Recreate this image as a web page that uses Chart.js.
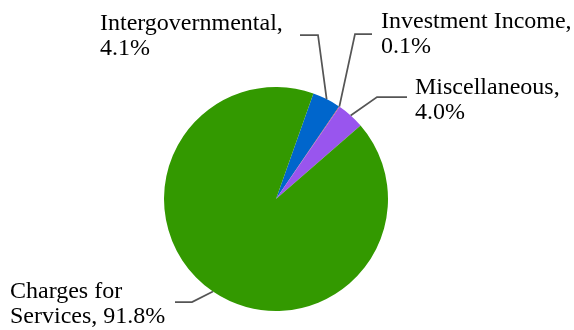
<!DOCTYPE html>
<html>
<head>
<meta charset="utf-8">
<script src="https://cdn.jsdelivr.net/npm/chart.js@4"></script>
<style>
  html, body { margin: 0; padding: 0; background: #fff; }
  #wrap { width: 574px; height: 330px; }
</style>
</head>
<body>
<div id="wrap"><canvas id="pie"></canvas></div>
<script>
// Revenue sources, share of total (%)
const categories = ['Intergovernmental', 'Investment Income', 'Miscellaneous', 'Charges for Services'];
const shares = [4.1, 0.1, 4.0, 91.8];
const sliceColors = ['#0066cc', '#c0504d', '#9955ee', '#339900'];

// callout placement: elbow of the leader line, its end, text anchor and line breaks
const callouts = [
  { elbow: [318, 35], end: [300, 35], text: [100, 30], lines: (n, v) => [n + ',', v] },
  { elbow: [355, 34], end: [372, 34], text: [381, 28], lines: (n, v) => [n + ',', v] },
  { elbow: [377, 97], end: [407, 97], text: [415, 94], lines: (n, v) => [n + ',', v] },
  { elbow: [192, 302], end: [175, 302], text: [10, 298], lines: (n, v) => ['Charges for', 'Services, ' + v] },
];

const calloutPlugin = {
  id: 'callouts',
  afterDatasetsDraw(chart) {
    const ctx = chart.ctx;
    const arcs = chart.getDatasetMeta(0).data;
    ctx.save();
    arcs.forEach((arc, i) => {
      const c = callouts[i];
      const mid = (arc.startAngle + arc.endAngle) / 2;
      const sx = arc.x + Math.cos(mid) * arc.outerRadius;
      const sy = arc.y + Math.sin(mid) * arc.outerRadius;
      ctx.strokeStyle = '#555555';
      ctx.lineWidth = 1.75;
      ctx.beginPath();
      ctx.moveTo(sx, sy);
      ctx.lineTo(c.elbow[0], c.elbow[1]);
      ctx.lineTo(c.end[0], c.end[1]);
      ctx.stroke();

      ctx.fillStyle = '#000';
      ctx.font = '24px "Liberation Serif", "Times New Roman", serif';
      ctx.textAlign = 'left';
      ctx.textBaseline = 'alphabetic';
      const txt = c.lines(categories[i], shares[i].toFixed(1) + '%');
      txt.forEach((t, k) => ctx.fillText(t, c.text[0], c.text[1] + k * 25));
    });
    ctx.restore();
  }
};

new Chart(document.getElementById('pie'), {
  type: 'pie',
  data: {
    labels: categories,
    datasets: [{
      data: shares,
      backgroundColor: sliceColors,
      borderWidth: 0,
    }],
  },
  options: {
    responsive: true,
    maintainAspectRatio: false,
    animation: false,
    rotation: 19.5,
    layout: { padding: { top: 87, bottom: 19, left: 164, right: 186 } },
    plugins: {
      legend: { display: false },
      tooltip: { enabled: false },
    },
  },
  plugins: [calloutPlugin],
});
</script>
</body>
</html>
